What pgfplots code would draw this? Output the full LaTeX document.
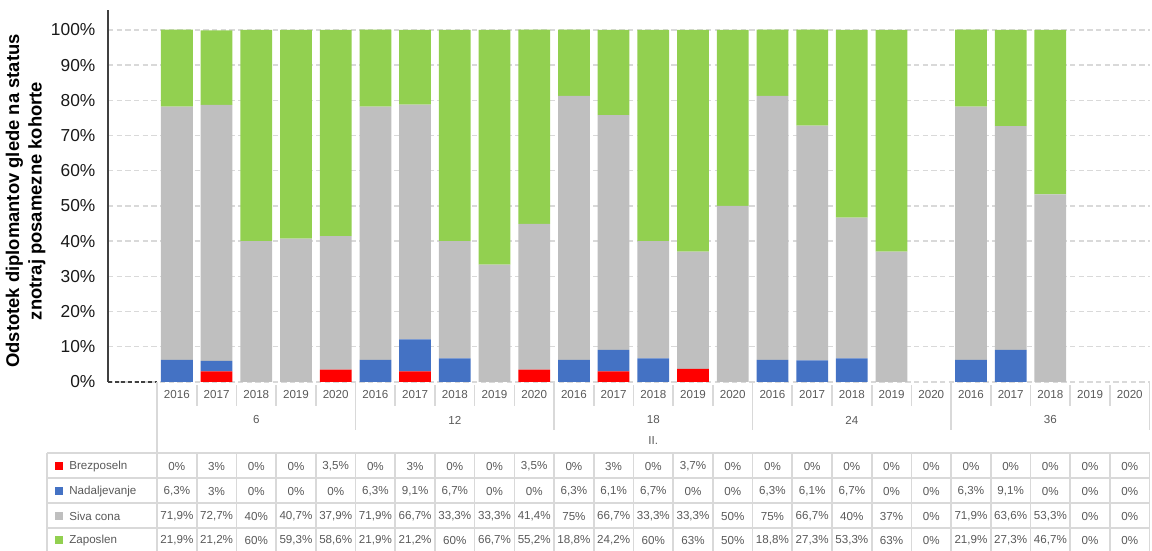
\documentclass[border=0pt]{standalone}
\usepackage{fontspec}
\setmainfont{Liberation Sans}
\usepackage{pgfplots}
\usepackage{pgfplotstable}
\pgfplotsset{compat=1.18}
\definecolor{cRed}{HTML}{FF0000}
\definecolor{cBlue}{HTML}{4472C4}
\definecolor{cGray}{HTML}{BFBFBF}
\definecolor{cGreen}{HTML}{92D050}
\definecolor{tabline}{HTML}{D9D9D9}
\definecolor{tabtext}{HTML}{595959}

% columns: 0-4 = 6 (2016-2020), 5-9 = 12, 10-14 = 18, 15-19 = 24, 20-24 = 36
\pgfplotstableread{
x  b    n    s     z
0  0    6.3  71.9  21.9
1  3    3    72.7  21.2
2  0    0    40    60
3  0    0    40.7  59.3
4  3.5  0    37.9  58.6
5  0    6.3  71.9  21.9
6  3    9.1  66.7  21.2
7  0    6.7  33.3  60
8  0    0    33.3  66.7
9  3.5  0    41.4  55.2
10 0    6.3  75    18.8
11 3    6.1  66.7  24.2
12 0    6.7  33.3  60
13 3.7  0    33.3  63
14 0    0    50    50
15 0    6.3  75    18.8
16 0    6.1  66.7  27.3
17 0    6.7  40    53.3
18 0    0    37    63
19 0    0    0     0
20 0    6.3  71.9  21.9
21 0    9.1  63.6  27.3
22 0    0    53.3  46.7
23 0    0    0     0
24 0    0    0     0
}\data

\begin{document}
\begin{tikzpicture}
\begin{axis}[
  scale only axis, width=781.1pt, height=279.05pt,
  xmin=-1.734, xmax=24.5, ymin=0, ymax=105.7,
  ybar stacked, bar width=0.8,
  axis lines*=left,
  x axis line style={draw=none},
  y axis line style={-, draw=black!75, line width=0.9pt},
  xtick=\empty,
  ytick={0,10,...,100},
  yticklabels={0\%,10\%,20\%,30\%,40\%,50\%,60\%,70\%,80\%,90\%,100\%},
  major tick length=0pt,
  ymajorgrids,
  grid style={draw=black!15, line width=1pt, dash pattern=on 4pt off 2.5pt},
  yticklabel style={font=\fontsize{13}{15}\selectfont, text=black!90, xshift=-6pt},
  clip=false,
]
\addplot[fill=cRed, draw=none] table[x=x,y=b]{\data};
\addplot[fill=cBlue, draw=none] table[x=x,y=n]{\data};
\addplot[fill=cGray, draw=none] table[x=x,y=s]{\data};
\addplot[fill=cGreen, draw=none] table[x=x,y=z]{\data};
\coordinate (O) at (axis cs:0,0);
\end{axis}

\begin{scope}[shift={(O)}, x=29.775pt, y=2.64pt]
  % bottom-left axis segment
  \draw[black!75, line width=0.9pt, dash pattern=on 3pt off 2pt] (-1.734,0) -- (-0.5,0);
  % table lines
  \begin{scope}[tabline, line width=1.2pt]
    \draw (-0.5,0) -- (-0.5,-48);
    \foreach \g in {4.5,9.5,14.5,19.5,24.5} \draw (\g,0) -- (\g,-13.6);
    \foreach \g in {0,5,10,15,20} {
      \foreach \k in {1,2,3,4} \draw ({\g+\k-0.5},-0.9) -- ({\g+\k-0.5},-6.8);
    }
    \foreach \r in {-20.2,-27.3,-34.4,-41.5} \draw (-3.27,\r) -- (24.5,\r);
    \draw (-3.27,-20.2) -- (-3.27,-48);
    \foreach \k in {0,...,25} \draw ({\k-0.5},-20.2) -- ({\k-0.5},-48);
  \end{scope}
  % header texts
  \begin{scope}[every node/.style={font=\fontsize{8.7}{10}\selectfont, text=tabtext, inner sep=0pt}]
    \foreach \k in {0,...,24} {
      \pgfmathtruncatemacro\yr{2016+mod(\k,5)}
      \node at (\k,-3.7) {\yr};
    }
    \foreach \lab [count=\j from 0] in {6,12,18,24,36} \node at ({2+5*\j},-10.8) {\lab};
    \node at (12,-16.5) {II.};
    % legend keys
    \fill[cRed]   (-2.97,-23.9) ++(-3pt,-3pt) rectangle ++(6pt,6pt);
    \fill[cBlue]  (-2.97,-31.0) ++(-3pt,-3pt) rectangle ++(6pt,6pt);
    \fill[cGray]  (-2.97,-38.1) ++(-3pt,-3pt) rectangle ++(6pt,6pt);
    \fill[cGreen] (-2.97,-44.9) ++(-3pt,-3pt) rectangle ++(6pt,6pt);
    \node[anchor=west] at (-2.716,-23.9) {Brezposeln};
    \node[anchor=west] at (-2.716,-31.0) {Nadaljevanje};
    \node[anchor=west] at (-2.716,-38.1) {Siva cona};
    \node[anchor=west] at (-2.716,-44.9) {Zaposlen};
    % values
    \foreach \v [count=\i from 0] in {0\%,3\%,0\%,0\%,{3,5\%},0\%,3\%,0\%,0\%,{3,5\%},0\%,3\%,0\%,{3,7\%},0\%,0\%,0\%,0\%,0\%,0\%,0\%,0\%,0\%,0\%,0\%}
      \node at (\i,-23.9) {\v};
    \foreach \v [count=\i from 0] in {{6,3\%},3\%,0\%,0\%,0\%,{6,3\%},{9,1\%},{6,7\%},0\%,0\%,{6,3\%},{6,1\%},{6,7\%},0\%,0\%,{6,3\%},{6,1\%},{6,7\%},0\%,0\%,{6,3\%},{9,1\%},0\%,0\%,0\%}
      \node at (\i,-31.0) {\v};
    \foreach \v [count=\i from 0] in {{71,9\%},{72,7\%},40\%,{40,7\%},{37,9\%},{71,9\%},{66,7\%},{33,3\%},{33,3\%},{41,4\%},75\%,{66,7\%},{33,3\%},{33,3\%},50\%,75\%,{66,7\%},40\%,37\%,0\%,{71,9\%},{63,6\%},{53,3\%},0\%,0\%}
      \node at (\i,-38.1) {\v};
    \foreach \v [count=\i from 0] in {{21,9\%},{21,2\%},60\%,{59,3\%},{58,6\%},{21,9\%},{21,2\%},60\%,{66,7\%},{55,2\%},{18,8\%},{24,2\%},60\%,63\%,50\%,{18,8\%},{27,3\%},{53,3\%},63\%,0\%,{21,9\%},{27,3\%},{46,7\%},0\%,0\%}
      \node at (\i,-44.9) {\v};
  \end{scope}
  % y label
  \node[rotate=90, align=center, font=\fontsize{13.8}{17}\selectfont\bfseries, text=black, inner sep=0pt]
    at (-3.81,51.4) {Odstotek diplomantov glede na status\\znotraj posamezne kohorte};
  \coordinate (BB1) at (-4.455,108.5);
  \coordinate (BB2) at (24.56,-48);
\end{scope}
\pgfresetboundingbox
\path[use as bounding box] (BB1) rectangle (BB2);
\end{tikzpicture}
\end{document}
